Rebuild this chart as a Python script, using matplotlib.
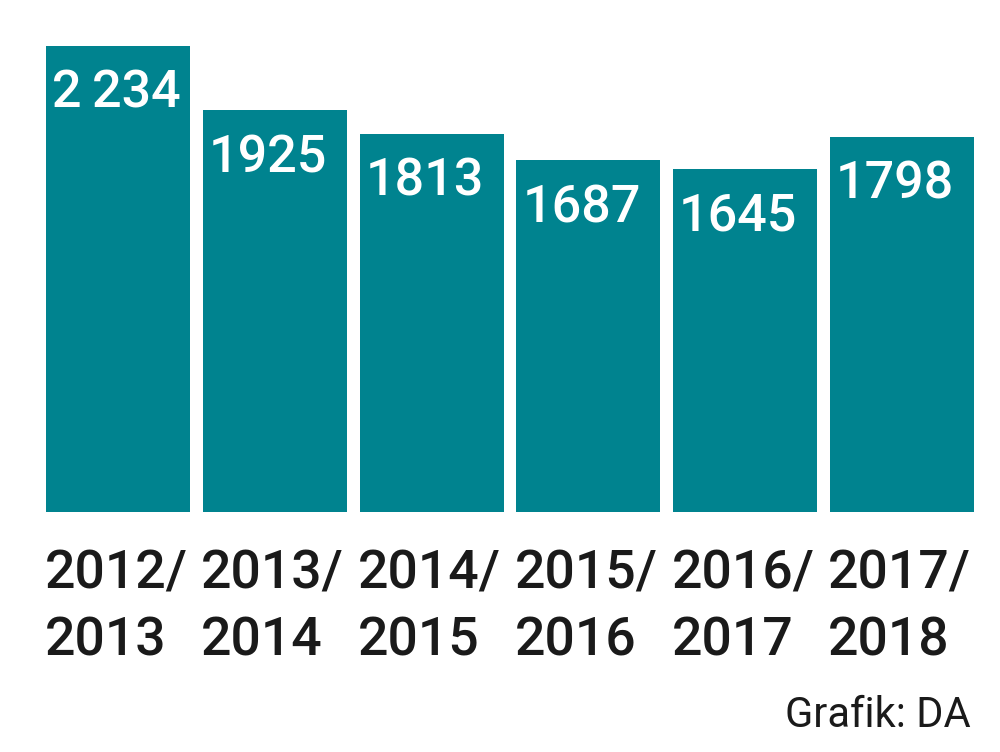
import matplotlib.pyplot as plt
import matplotlib.transforms as mtransforms

seasons = ["2012/\n2013", "2013/\n2014", "2014/\n2015", "2015/\n2016", "2016/\n2017", "2017/\n2018"]
values = [2234, 1925, 1813, 1687, 1645, 1798]
value_labels = ["2\u2009234", "1925", "1813", "1687", "1645", "1798"]

TEAL = "#00838f"
FONT = ["Roboto", "DejaVu Sans"]
plt.rcParams["font.family"] = FONT

fig = plt.figure(figsize=(10, 7.52), dpi=100)
ax = fig.add_axes([46 / 1000, (752 - 512) / 752, 928 / 1000, 466 / 752])

width = 0.92
xs = range(len(values))
ax.bar(xs, values, width=width, color=TEAL)
ax.set_xlim(-width / 2, len(values) - 1 + width / 2)
ax.set_ylim(0, max(values))
ax.axis("off")

# value labels inside the top-left of each bar
for x, v, lab in zip(xs, values, value_labels):
    ax.annotate(lab, (x - width / 2, v), xytext=(6, -23), textcoords="offset pixels",
                ha="left", va="top", color="white", fontsize=37.5, fontweight="medium")

trans = mtransforms.blended_transform_factory(ax.transData, ax.transAxes)
for x, s in zip(xs, seasons):
    ax.text(x - width / 2 - 0.01, -0.078, s, transform=trans, ha="left", va="top",
            fontsize=38.5, fontweight="medium", color="#1a1a1a", linespacing=1.4)

fig.text(971 / 1000, (752 - 727) / 752, "Grafik: DA", ha="right", va="baseline",
         fontsize=30, color="#1a1a1a")

fig.savefig("out.png", dpi=100)
